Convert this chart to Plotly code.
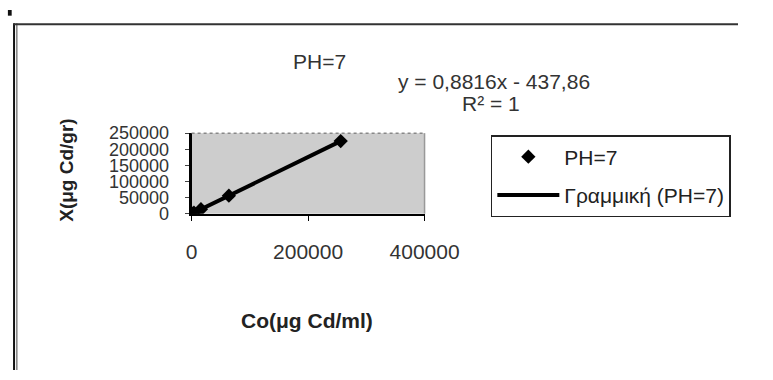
import numpy as np
import plotly.graph_objects as go

# Data
co_values = [1000, 4000, 16000, 64000, 256000]
x_values = [450, 3100, 13700, 56000, 225300]
x_ticks = [0, 200000, 400000]
y_ticks = [0, 50000, 100000, 150000, 200000, 250000]
series_name = "PH=7"
trend_name = "Γραμμική (PH=7)"
title_text = "PH=7"
equation_text = "y = 0,8816x - 437,86"
r2_text = "R² = 1"
x_title = "Co(μg Cd/ml)"
y_title = "X(μg Cd/gr)"

slope, intercept = np.polyfit(co_values, x_values, 1)
trend_x = [min(co_values), max(co_values)]
trend_y = [slope * v + intercept for v in trend_x]

W, H = 773, 380
FONT = "Liberation Sans, Arial, sans-serif"

def px(x):
    return x / W

def py(y):
    return 1 - y / H

fig = go.Figure()
fig.add_trace(go.Scatter(
    x=co_values, y=x_values, mode="markers", name=series_name,
    marker=dict(symbol="diamond", size=11, color="black"),
    legendgroup="a",
))
fig.add_trace(go.Scatter(
    x=trend_x, y=trend_y, mode="lines", name=trend_name,
    line=dict(color="black", width=4),
    legendgroup="b",
))

fig.update_layout(
    width=W, height=H,
    margin=dict(l=0, r=0, t=0, b=0),
    paper_bgcolor="white",
    plot_bgcolor="#cdcdcd",
    font=dict(family=FONT, color="#222222"),
    showlegend=True,
    legend=dict(
        x=px(512), y=py(132), xanchor="left", yanchor="top",
        bgcolor="white", bordercolor="#222222", borderwidth=1.5,
        font=dict(size=21, family=FONT, color="#222222"),
        tracegroupgap=8,
        itemwidth=62,
    ),
    xaxis=dict(
        domain=[px(196), px(442)],
        range=[0, 400000],
        tickvals=x_ticks,
        ticktext=[str(v) for v in x_ticks],
        showgrid=False, zeroline=False,
        showline=True, linecolor="black", linewidth=2,
        ticks="outside", ticklen=5, tickcolor="black",
        tickfont=dict(size=21, family=FONT, color="#333333"),
        ticklabelstandoff=13,
        mirror=False,
    ),
    yaxis=dict(
        domain=[py(215), py(130)],
        range=[0, 250000],
        tickvals=y_ticks,
        ticktext=[str(v) for v in y_ticks],
        showgrid=False, zeroline=False,
        showline=True, linecolor="black", linewidth=3,
        ticks="outside", ticklen=4, tickcolor="#444444",
        tickfont=dict(size=18, family=FONT, color="#333333"),
        ticklabelstandoff=12,
    ),
    annotations=[
        dict(text=title_text, x=px(331), y=py(54), xref="paper", yref="paper",
             showarrow=False, xanchor="center", yanchor="middle",
             font=dict(size=21, family=FONT, color="#333333")),
        dict(text=equation_text, x=px(515), y=py(75), xref="paper", yref="paper",
             showarrow=False, xanchor="center", yanchor="middle",
             font=dict(size=21, family=FONT, color="#333333")),
        dict(text=r2_text, x=px(512), y=py(99), xref="paper", yref="paper",
             showarrow=False, xanchor="center", yanchor="middle",
             font=dict(size=21, family=FONT, color="#333333")),
        dict(text="<b>" + x_title + "</b>", x=px(318), y=py(328), xref="paper", yref="paper",
             showarrow=False, xanchor="center", yanchor="middle",
             font=dict(size=21, family=FONT, color="#222222")),
        dict(text="<b>" + y_title + "</b>", x=px(63), y=py(169), xref="paper", yref="paper",
             showarrow=False, xanchor="center", yanchor="middle", textangle=-90,
             font=dict(size=19, family=FONT, color="#222222")),
    ],
    shapes=[
        # outer chart frame (left double line and top line)
        dict(type="line", xref="paper", yref="paper", x0=px(8.5), x1=px(8.5), y0=0, y1=py(14),
             line=dict(color="#111111", width=2)),
        dict(type="line", xref="paper", yref="paper", x0=px(11.5), x1=px(11.5), y0=0, y1=py(14),
             line=dict(color="#444444", width=1)),
        dict(type="line", xref="paper", yref="paper", x0=px(8), x1=1, y0=py(15), y1=py(15),
             line=dict(color="#333333", width=2)),
        # plot area top dotted edge and right edge
        dict(type="line", xref="paper", yref="paper", x0=px(196), x1=px(442), y0=py(130), y1=py(130),
             line=dict(color="#888888", width=1.5, dash="dot")),
        dict(type="line", xref="paper", yref="paper", x0=px(442), x1=px(442), y0=py(130), y1=py(215),
             line=dict(color="#999999", width=1.5)),
        # cut-off mark at top-left
        dict(type="rect", xref="paper", yref="paper", x0=px(2), x1=px(6), y0=py(6), y1=1,
             fillcolor="#111111", line=dict(width=0)),
    ],
)

fig.write_html("out.html")
